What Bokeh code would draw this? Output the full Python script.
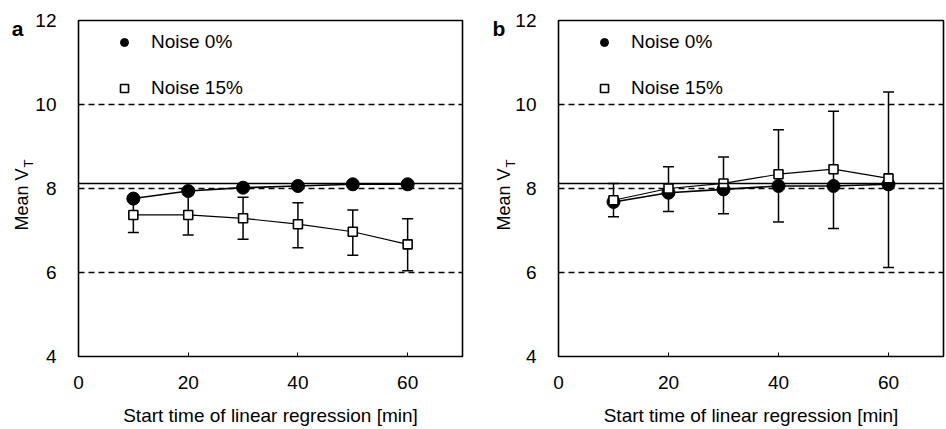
import math
from bokeh.plotting import figure
from bokeh.layouts import row
from bokeh.models import (ColumnDataSource, Whisker, TeeHead, Label, Legend,
                          LegendItem, Span, FixedTicker)
from bokeh.embed import file_html
from bokeh.resources import INLINE

# ---------------- data ----------------
start_time = [10, 20, 30, 40, 50, 60]
y_ticks = [4, 6, 8, 10, 12]
x_ticks = [0, 20, 40, 60]
true_vt = 8.12

a_noise0 = [7.76, 7.94, 8.02, 8.06, 8.10, 8.10]
a_noise15 = [7.37, 7.37, 7.29, 7.15, 6.97, 6.67]
a_noise15_lo = [6.95, 6.89, 6.79, 6.59, 6.41, 6.04]
a_noise15_hi = [7.79, 7.85, 7.79, 7.66, 7.49, 7.28]

b_noise0 = [7.68, 7.90, 7.98, 8.06, 8.06, 8.10]
b_noise15 = [7.72, 8.00, 8.12, 8.34, 8.46, 8.24]
b_noise15_lo = [7.33, 7.45, 7.40, 7.20, 7.05, 6.12]
b_noise15_hi = [8.12, 8.52, 8.75, 9.40, 9.84, 10.30]

FONT = "Liberation Sans"
PX_X = 385 / 70.0   # frame pixels per x unit
PX_Y = 336 / 8.0    # frame pixels per y unit


def off_x(px):
    return px / PX_X


def off_y(px_from_bottom):
    return 4 + px_from_bottom / PX_Y


def make_panel(letter, noise0, noise15, lo, hi, width, border_left, border_right,
               ylab_dx, t_dx, letter_dx):
    p = figure(width=width, height=429, x_range=(0, 70), y_range=(4, 12),
               output_backend="svg", toolbar_location=None,
               min_border_left=border_left, min_border_right=border_right,
               min_border_top=20, min_border_bottom=73)
    p.background_fill_color = "white"
    p.border_fill_color = "white"
    p.outline_line_color = "black"
    p.outline_line_width = 1.6

    p.xaxis.ticker = FixedTicker(ticks=x_ticks)
    p.yaxis.ticker = FixedTicker(ticks=y_ticks)
    for ax in (p.xaxis, p.yaxis):
        ax.axis_line_color = None
        ax.major_tick_in = 4
        ax.major_tick_out = 0
        ax.major_tick_line_color = "black"
        ax.minor_tick_line_color = None
        ax.major_label_text_font = FONT
        ax.major_label_text_font_size = "19px"
        ax.major_label_text_color = "black"
    p.xaxis.major_label_standoff = 19
    p.yaxis.major_label_standoff = 22
    p.xaxis.axis_label = "Start time of linear regression [min]"
    p.xaxis.axis_label_text_font = FONT
    p.xaxis.axis_label_text_font_size = "19px"
    p.xaxis.axis_label_text_font_style = "normal"
    p.xaxis.axis_label_text_color = "black"
    p.xaxis.axis_label_standoff = 13

    p.xgrid.grid_line_color = None
    p.ygrid.grid_line_color = "black"
    p.ygrid.grid_line_dash = "6 4"
    p.ygrid.grid_line_width = 1.4

    p.add_layout(Span(location=true_vt, dimension="width", line_color="black",
                      line_width=1.4))

    src = ColumnDataSource(dict(x=start_time, n0=noise0, n15=noise15,
                                lo=lo, hi=hi))
    p.add_layout(Whisker(source=src, base="x", lower="lo", upper="hi",
                         line_color="black", line_width=1.5,
                         upper_head=TeeHead(size=11, line_color="black", line_width=1.5),
                         lower_head=TeeHead(size=11, line_color="black", line_width=1.5)))

    p.line("x", "n0", source=src, line_color="black", line_width=1.6)
    p.line("x", "n15", source=src, line_color="black", line_width=1.2)
    r0 = p.scatter("x", "n0", source=src, marker="circle", size=13,
                   fill_color="black", line_color="black")
    r15 = p.scatter("x", "n15", source=src, marker="square", size=9,
                    fill_color="white", line_color="black", line_width=1.6)

    legend = Legend(items=[LegendItem(label="Noise 0%", renderers=[r0]),
                           LegendItem(label="Noise 15%", renderers=[r15])],
                    location=(36, 257), padding=0, margin=0,
                    glyph_width=20, glyph_height=20, label_height=20,
                    spacing=24, label_standoff=17,
                    border_line_alpha=0, background_fill_alpha=0,
                    label_text_font=FONT, label_text_font_size="19px",
                    label_text_color="black")
    p.add_layout(legend)

    # texts outside the frame, positioned through the frame's own scales
    p.add_layout(Label(x=off_x(ylab_dx), y=off_y(126), text="Mean V",
                       angle=math.pi / 2, text_align="left",
                       text_baseline="middle", text_font=FONT,
                       text_font_size="18px", text_color="black"), "left")
    p.add_layout(Label(x=off_x(letter_dx), y=off_y(328), text=letter,
                       text_align="left", text_baseline="alphabetic",
                       text_font=FONT, text_font_size="21px",
                       text_font_style="bold", text_color="black"), "left")
    p.add_layout(Label(x=off_x(t_dx), y=off_y(189), text="T",
                       angle=math.pi / 2, text_align="left",
                       text_baseline="middle", text_font=FONT,
                       text_font_size="13px", text_color="black"), "above")
    return p


pa = make_panel("a", a_noise0, a_noise15, a_noise15_lo, a_noise15_hi,
                470, 77, 8, -57, -50, -67)
pb = make_panel("b", b_noise0, b_noise15, b_noise15_lo, b_noise15_hi,
                476, 88, 3, -55, -48, -66)

layout = row(pa, pb)
open("out.html", "w").write(file_html(layout, INLINE))
